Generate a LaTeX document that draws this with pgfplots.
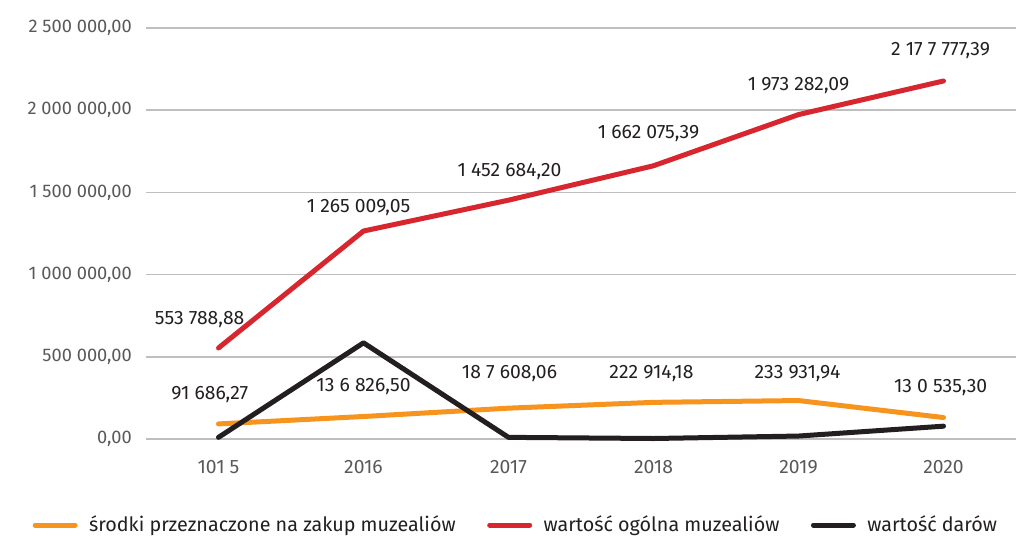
\documentclass[border=0pt]{standalone}
\usepackage{pgfplots}
\pgfplotsset{compat=1.18}
\usepackage{fontspec}
\setmainfont{Fira Sans}
\definecolor{cred}{HTML}{D7262E}
\definecolor{corange}{HTML}{F7941D}
\definecolor{cblack}{HTML}{231F20}
\definecolor{cgrid}{HTML}{BFBFBF}
\definecolor{ctick}{HTML}{595959}
\begin{document}
\fontsize{13.5pt}{16pt}\selectfont
\begin{tikzpicture}[x=1pt,y=1pt]
\useasboundingbox (-109.5pt,-75pt) rectangle (652.5pt,329.25pt);
\begin{axis}[
  anchor=south west, at={(0pt,0pt)},
  scale only axis, width=652.5pt, height=308.25pt,
  xmin=-0.5, xmax=5.5, ymin=0, ymax=2500000,
  scaled y ticks=false,
  axis line style={draw=none}, clip=false,
  major tick length=0pt,
  xtick={0,1,2,3,4,5},
  xticklabels={101 5,2016,2017,2018,2019,2020},
  ytick={0,500000,1000000,1500000,2000000,2500000},
  yticklabels={{0,00},{500 000,00},{1 000 000,00},{1 500 000,00},{2 000 000,00},{2 500 000,00}},
  ymajorgrids, grid style={cgrid, line width=1.1pt},
  tick label style={text=ctick, font=\fontsize{13.7pt}{16pt}\selectfont},
  xticklabel style={font=\fontsize{14.5pt}{16pt}\selectfont},
  yticklabel style={anchor=east, inner sep=0pt, xshift=-10.5pt},
  xticklabel style={anchor=center, inner sep=0pt, yshift=-21pt},
  legend columns=3,
  legend style={draw=none, fill=none, at={(-85pt,-64.5pt)}, anchor=west,
    inner sep=0pt, outer sep=0pt,
    font=\fontsize{14.8pt}{17pt}\selectfont, text=cblack,
    /tikz/every odd column/.append style={column sep=8.6pt},
    /tikz/every even column/.append style={column sep=23.6pt},
    nodes={inner sep=0pt}},
  legend image code/.code={\draw[#1, line width=3.75pt, line cap=round] (0pt,0pt) -- (30pt,0pt);},
  every axis plot/.append style={line width=3.75pt, line cap=round, line join=round, mark=none},
]
\addplot[corange] coordinates {(0,91686.27) (1,136826.50) (2,187608.06) (3,222914.18) (4,233931.94) (5,130535.30)};
\addlegendentry{środki przeznaczone na zakup muzealiów}
\addplot[cred] coordinates {(0,553788.88) (1,1265009.05) (2,1452684.20) (3,1662075.39) (4,1973282.09) (5,2177777.39)};
\addlegendentry{wartość ogólna muzealiów}
\addplot[cblack] coordinates {(0,10000) (1,585000) (2,10000) (3,3000) (4,18000) (5,78000)};
\addlegendentry{wartość darów}
\begin{scope}[every node/.style={text=cblack, inner sep=0pt, anchor=center, font=\fontsize{14.5pt}{17pt}\selectfont}]
\node at (axis cs:-0.13,723800) {553 788,88};
\node at (axis cs:0.966,1405000) {1 265 009,05};
\node at (axis cs:2.007,1624000) {1 452 684,20};
\node at (axis cs:2.966,1861000) {1 662 075,39};
\node at (axis cs:4.0,2153000) {1 973 282,09};
\node at (axis cs:4.98,2360000) {2 17 7 777,39};
\node at (axis cs:-0.06,267600) {91 686,27};
\node at (axis cs:1.0,316300) {13 6 826,50};
\node at (axis cs:2.007,401000) {18 7 608,06};
\node at (axis cs:2.986,401000) {222 914,18};
\node at (axis cs:3.993,401000) {233 931,94};
\node at (axis cs:4.98,310200) {13 0 535,30};
\end{scope}
\end{axis}
\end{tikzpicture}
\end{document}
